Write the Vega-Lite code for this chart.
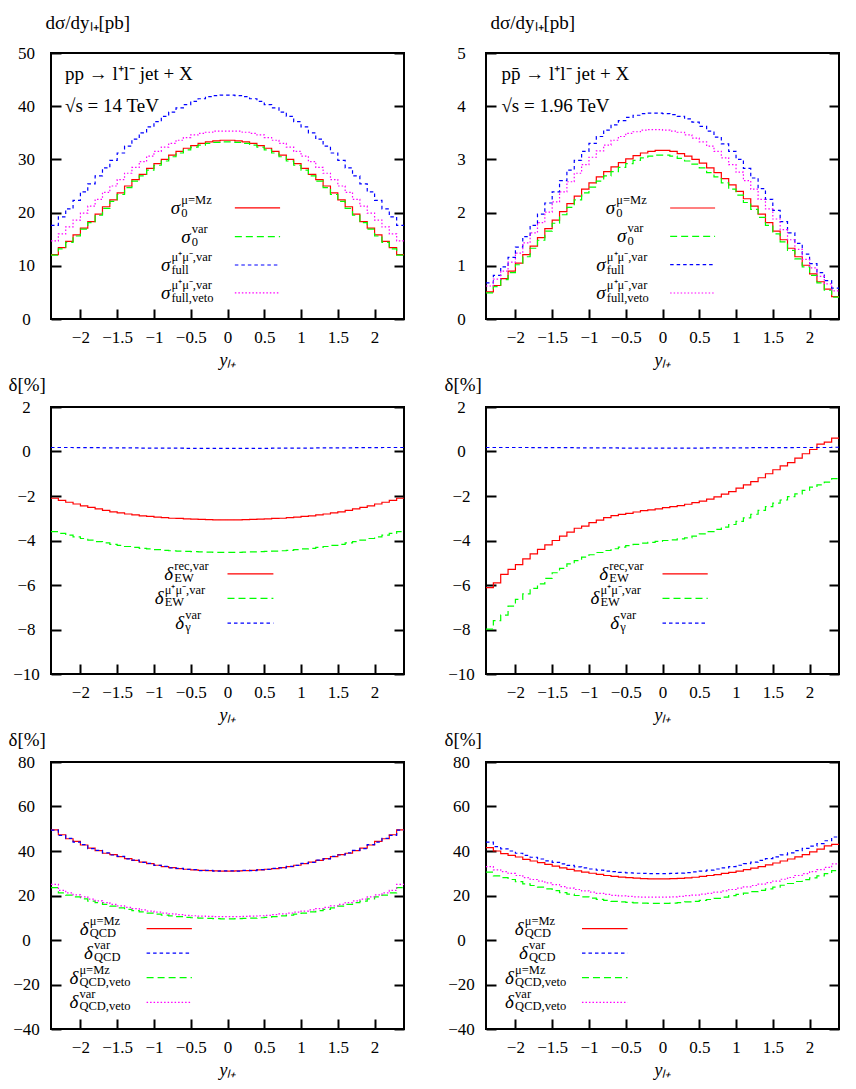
{
  "$schema": "https://vega.github.io/schema/vega-lite/v6.json",
  "background": "white",
  "padding": {"left": 7, "top": 12, "right": 5, "bottom": 5},
  "config": {
    "font": "Liberation Serif",
    "view": {"stroke": "black", "strokeWidth": 2},
    "axis": {
      "domain": false, "grid": false, "ticks": true, "tickSize": -10, "tickWidth": 2, "tickColor": "black",
      "labelFontSize": 17, "labelColor": "black", "labelFlush": false, "labelOverlap": false,
      "titleFontSize": 19, "titleColor": "black", "titleFontWeight": "normal"
    },
    "axisX": {"labelPadding": 28, "labelBaseline": "middle", "titleY": 41, "titleBaseline": "middle", "titleFontStyle": "italic", "titleFontSize": 18},
    "axisY": {"labelPadding": 35, "labelAlign": "center", "labelBaseline": "middle", "titleAngle": 0, "titleAlign": "left", "titleBaseline": "middle"}
  },
  "datasets": {
    "p1": [
      {"x": -2.4, "r": 12.1, "g": 12.0, "b": 17.6, "m": 14.7},
      {"x": -2.3, "r": 13.4, "g": 13.2, "b": 19.2, "m": 16.0},
      {"x": -2.2, "r": 14.6, "g": 14.4, "b": 20.7, "m": 17.3},
      {"x": -2.1, "r": 15.8, "g": 15.6, "b": 22.3, "m": 18.6},
      {"x": -2.0, "r": 17.1, "g": 16.9, "b": 23.9, "m": 19.9},
      {"x": -1.9, "r": 18.3, "g": 18.1, "b": 25.4, "m": 21.2},
      {"x": -1.8, "r": 19.7, "g": 19.5, "b": 26.9, "m": 22.5},
      {"x": -1.7, "r": 21.1, "g": 20.8, "b": 28.4, "m": 23.8},
      {"x": -1.6, "r": 22.4, "g": 22.1, "b": 29.8, "m": 25.0},
      {"x": -1.5, "r": 23.7, "g": 23.4, "b": 31.2, "m": 26.2},
      {"x": -1.4, "r": 25.0, "g": 24.7, "b": 32.5, "m": 27.4},
      {"x": -1.3, "r": 26.2, "g": 25.9, "b": 33.8, "m": 28.5},
      {"x": -1.2, "r": 27.2, "g": 26.9, "b": 35.0, "m": 29.6},
      {"x": -1.1, "r": 28.3, "g": 28.0, "b": 36.1, "m": 30.6},
      {"x": -1.0, "r": 29.2, "g": 28.9, "b": 37.1, "m": 31.5},
      {"x": -0.9, "r": 30.0, "g": 29.7, "b": 38.1, "m": 32.3},
      {"x": -0.8, "r": 30.8, "g": 30.5, "b": 38.9, "m": 33.0},
      {"x": -0.7, "r": 31.5, "g": 31.2, "b": 39.7, "m": 33.6},
      {"x": -0.6, "r": 32.1, "g": 31.8, "b": 40.3, "m": 34.1},
      {"x": -0.5, "r": 32.6, "g": 32.3, "b": 40.9, "m": 34.6},
      {"x": -0.4, "r": 33.0, "g": 32.7, "b": 41.4, "m": 34.9},
      {"x": -0.3, "r": 33.3, "g": 33.0, "b": 41.8, "m": 35.1},
      {"x": -0.2, "r": 33.5, "g": 33.2, "b": 42.0, "m": 35.3},
      {"x": -0.1, "r": 33.6, "g": 33.3, "b": 42.1, "m": 35.3},
      {"x": 0.0, "r": 33.6, "g": 33.3, "b": 42.1, "m": 35.3},
      {"x": 0.1, "r": 33.5, "g": 33.2, "b": 42.0, "m": 35.3},
      {"x": 0.2, "r": 33.3, "g": 33.0, "b": 41.8, "m": 35.1},
      {"x": 0.3, "r": 33.0, "g": 32.7, "b": 41.4, "m": 34.9},
      {"x": 0.4, "r": 32.6, "g": 32.3, "b": 40.9, "m": 34.6},
      {"x": 0.5, "r": 32.1, "g": 31.8, "b": 40.3, "m": 34.1},
      {"x": 0.6, "r": 31.5, "g": 31.2, "b": 39.7, "m": 33.6},
      {"x": 0.7, "r": 30.8, "g": 30.5, "b": 38.9, "m": 33.0},
      {"x": 0.8, "r": 30.0, "g": 29.7, "b": 38.1, "m": 32.3},
      {"x": 0.9, "r": 29.2, "g": 28.9, "b": 37.1, "m": 31.5},
      {"x": 1.0, "r": 28.3, "g": 28.0, "b": 36.1, "m": 30.6},
      {"x": 1.1, "r": 27.2, "g": 26.9, "b": 35.0, "m": 29.6},
      {"x": 1.2, "r": 26.2, "g": 25.9, "b": 33.8, "m": 28.5},
      {"x": 1.3, "r": 25.0, "g": 24.7, "b": 32.5, "m": 27.4},
      {"x": 1.4, "r": 23.7, "g": 23.4, "b": 31.2, "m": 26.2},
      {"x": 1.5, "r": 22.4, "g": 22.1, "b": 29.8, "m": 25.0},
      {"x": 1.6, "r": 21.1, "g": 20.8, "b": 28.4, "m": 23.8},
      {"x": 1.7, "r": 19.7, "g": 19.5, "b": 26.9, "m": 22.5},
      {"x": 1.8, "r": 18.3, "g": 18.1, "b": 25.4, "m": 21.2},
      {"x": 1.9, "r": 17.1, "g": 16.9, "b": 23.9, "m": 19.9},
      {"x": 2.0, "r": 15.8, "g": 15.6, "b": 22.3, "m": 18.6},
      {"x": 2.1, "r": 14.6, "g": 14.4, "b": 20.7, "m": 17.3},
      {"x": 2.2, "r": 13.4, "g": 13.2, "b": 19.2, "m": 16.0},
      {"x": 2.3, "r": 12.1, "g": 12.0, "b": 17.6, "m": 14.7},
      {"x": 2.4, "r": 12.1, "g": 12.0, "b": 17.6, "m": 14.7}
    ],
    "p2": [
      {"x": -2.4, "r": 0.51, "g": 0.49, "b": 0.68, "m": 0.62},
      {"x": -2.3, "r": 0.63, "g": 0.61, "b": 0.82, "m": 0.75},
      {"x": -2.2, "r": 0.76, "g": 0.74, "b": 0.98, "m": 0.90},
      {"x": -2.1, "r": 0.90, "g": 0.87, "b": 1.16, "m": 1.07},
      {"x": -2.0, "r": 1.05, "g": 1.02, "b": 1.35, "m": 1.24},
      {"x": -1.9, "r": 1.21, "g": 1.17, "b": 1.55, "m": 1.43},
      {"x": -1.8, "r": 1.37, "g": 1.33, "b": 1.76, "m": 1.62},
      {"x": -1.7, "r": 1.53, "g": 1.48, "b": 1.97, "m": 1.81},
      {"x": -1.6, "r": 1.70, "g": 1.65, "b": 2.18, "m": 2.01},
      {"x": -1.5, "r": 1.86, "g": 1.80, "b": 2.39, "m": 2.20},
      {"x": -1.4, "r": 2.02, "g": 1.96, "b": 2.60, "m": 2.39},
      {"x": -1.3, "r": 2.17, "g": 2.10, "b": 2.80, "m": 2.58},
      {"x": -1.2, "r": 2.31, "g": 2.24, "b": 2.98, "m": 2.74},
      {"x": -1.1, "r": 2.44, "g": 2.37, "b": 3.15, "m": 2.90},
      {"x": -1.0, "r": 2.56, "g": 2.48, "b": 3.30, "m": 3.04},
      {"x": -0.9, "r": 2.67, "g": 2.59, "b": 3.43, "m": 3.16},
      {"x": -0.8, "r": 2.77, "g": 2.69, "b": 3.55, "m": 3.27},
      {"x": -0.7, "r": 2.86, "g": 2.77, "b": 3.65, "m": 3.36},
      {"x": -0.6, "r": 2.94, "g": 2.85, "b": 3.73, "m": 3.43},
      {"x": -0.5, "r": 3.01, "g": 2.92, "b": 3.79, "m": 3.49},
      {"x": -0.4, "r": 3.07, "g": 2.98, "b": 3.83, "m": 3.52},
      {"x": -0.3, "r": 3.12, "g": 3.03, "b": 3.86, "m": 3.55},
      {"x": -0.2, "r": 3.15, "g": 3.06, "b": 3.87, "m": 3.56},
      {"x": -0.1, "r": 3.17, "g": 3.08, "b": 3.87, "m": 3.56},
      {"x": 0.0, "r": 3.17, "g": 3.08, "b": 3.86, "m": 3.55},
      {"x": 0.1, "r": 3.15, "g": 3.06, "b": 3.84, "m": 3.53},
      {"x": 0.2, "r": 3.11, "g": 3.02, "b": 3.81, "m": 3.51},
      {"x": 0.3, "r": 3.06, "g": 2.97, "b": 3.76, "m": 3.46},
      {"x": 0.4, "r": 3.00, "g": 2.91, "b": 3.70, "m": 3.40},
      {"x": 0.5, "r": 2.93, "g": 2.84, "b": 3.62, "m": 3.33},
      {"x": 0.6, "r": 2.84, "g": 2.75, "b": 3.53, "m": 3.25},
      {"x": 0.7, "r": 2.75, "g": 2.67, "b": 3.42, "m": 3.15},
      {"x": 0.8, "r": 2.64, "g": 2.56, "b": 3.29, "m": 3.03},
      {"x": 0.9, "r": 2.52, "g": 2.44, "b": 3.15, "m": 2.90},
      {"x": 1.0, "r": 2.40, "g": 2.33, "b": 3.00, "m": 2.76},
      {"x": 1.1, "r": 2.26, "g": 2.19, "b": 2.83, "m": 2.60},
      {"x": 1.2, "r": 2.12, "g": 2.06, "b": 2.65, "m": 2.44},
      {"x": 1.3, "r": 1.97, "g": 1.91, "b": 2.45, "m": 2.25},
      {"x": 1.4, "r": 1.81, "g": 1.76, "b": 2.25, "m": 2.07},
      {"x": 1.5, "r": 1.65, "g": 1.60, "b": 2.04, "m": 1.88},
      {"x": 1.6, "r": 1.49, "g": 1.45, "b": 1.83, "m": 1.68},
      {"x": 1.7, "r": 1.33, "g": 1.29, "b": 1.62, "m": 1.49},
      {"x": 1.8, "r": 1.17, "g": 1.13, "b": 1.42, "m": 1.31},
      {"x": 1.9, "r": 1.01, "g": 0.98, "b": 1.22, "m": 1.12},
      {"x": 2.0, "r": 0.85, "g": 0.82, "b": 1.04, "m": 0.96},
      {"x": 2.1, "r": 0.70, "g": 0.68, "b": 0.87, "m": 0.80},
      {"x": 2.2, "r": 0.56, "g": 0.54, "b": 0.72, "m": 0.66},
      {"x": 2.3, "r": 0.42, "g": 0.41, "b": 0.58, "m": 0.53},
      {"x": 2.4, "r": 0.42, "g": 0.41, "b": 0.58, "m": 0.53}
    ],
    "p3": [
      {"x": -2.4, "r": -2.1, "g": -3.6, "b": 0.18},
      {"x": -2.3, "r": -2.2, "g": -3.68, "b": 0.18},
      {"x": -2.2, "r": -2.28, "g": -3.76, "b": 0.18},
      {"x": -2.1, "r": -2.36, "g": -3.84, "b": 0.17},
      {"x": -2.0, "r": -2.44, "g": -3.91, "b": 0.17},
      {"x": -1.9, "r": -2.51, "g": -3.98, "b": 0.17},
      {"x": -1.8, "r": -2.58, "g": -4.05, "b": 0.17},
      {"x": -1.7, "r": -2.65, "g": -4.11, "b": 0.16},
      {"x": -1.6, "r": -2.71, "g": -4.17, "b": 0.16},
      {"x": -1.5, "r": -2.76, "g": -4.22, "b": 0.16},
      {"x": -1.4, "r": -2.81, "g": -4.27, "b": 0.16},
      {"x": -1.3, "r": -2.85, "g": -4.31, "b": 0.16},
      {"x": -1.2, "r": -2.89, "g": -4.35, "b": 0.15},
      {"x": -1.1, "r": -2.92, "g": -4.38, "b": 0.15},
      {"x": -1.0, "r": -2.95, "g": -4.41, "b": 0.15},
      {"x": -0.9, "r": -2.97, "g": -4.44, "b": 0.15},
      {"x": -0.8, "r": -3.0, "g": -4.46, "b": 0.15},
      {"x": -0.7, "r": -3.01, "g": -4.48, "b": 0.15},
      {"x": -0.6, "r": -3.03, "g": -4.49, "b": 0.14},
      {"x": -0.5, "r": -3.04, "g": -4.5, "b": 0.14},
      {"x": -0.4, "r": -3.05, "g": -4.51, "b": 0.14},
      {"x": -0.3, "r": -3.06, "g": -4.52, "b": 0.14},
      {"x": -0.2, "r": -3.07, "g": -4.53, "b": 0.14},
      {"x": -0.1, "r": -3.07, "g": -4.53, "b": 0.14},
      {"x": 0.0, "r": -3.07, "g": -4.53, "b": 0.14},
      {"x": 0.1, "r": -3.07, "g": -4.53, "b": 0.14},
      {"x": 0.2, "r": -3.06, "g": -4.52, "b": 0.14},
      {"x": 0.3, "r": -3.05, "g": -4.51, "b": 0.14},
      {"x": 0.4, "r": -3.04, "g": -4.5, "b": 0.14},
      {"x": 0.5, "r": -3.03, "g": -4.49, "b": 0.14},
      {"x": 0.6, "r": -3.01, "g": -4.48, "b": 0.15},
      {"x": 0.7, "r": -3.0, "g": -4.46, "b": 0.15},
      {"x": 0.8, "r": -2.97, "g": -4.44, "b": 0.15},
      {"x": 0.9, "r": -2.95, "g": -4.41, "b": 0.15},
      {"x": 1.0, "r": -2.92, "g": -4.38, "b": 0.15},
      {"x": 1.1, "r": -2.89, "g": -4.35, "b": 0.15},
      {"x": 1.2, "r": -2.85, "g": -4.31, "b": 0.16},
      {"x": 1.3, "r": -2.81, "g": -4.27, "b": 0.16},
      {"x": 1.4, "r": -2.76, "g": -4.22, "b": 0.16},
      {"x": 1.5, "r": -2.71, "g": -4.17, "b": 0.16},
      {"x": 1.6, "r": -2.65, "g": -4.11, "b": 0.16},
      {"x": 1.7, "r": -2.58, "g": -4.05, "b": 0.17},
      {"x": 1.8, "r": -2.51, "g": -3.98, "b": 0.17},
      {"x": 1.9, "r": -2.44, "g": -3.91, "b": 0.17},
      {"x": 2.0, "r": -2.36, "g": -3.84, "b": 0.17},
      {"x": 2.1, "r": -2.28, "g": -3.76, "b": 0.18},
      {"x": 2.2, "r": -2.2, "g": -3.68, "b": 0.18},
      {"x": 2.3, "r": -2.1, "g": -3.6, "b": 0.18},
      {"x": 2.4, "r": -2.1, "g": -3.6, "b": 0.18}
    ],
    "p4": [
      {"x": -2.4, "r": -6.12, "g": -7.98, "b": 0.18},
      {"x": -2.3, "r": -5.9, "g": -7.6, "b": 0.18},
      {"x": -2.2, "r": -5.52, "g": -7.35, "b": 0.18},
      {"x": -2.1, "r": -5.3, "g": -6.95, "b": 0.18},
      {"x": -2.0, "r": -5.08, "g": -6.65, "b": 0.18},
      {"x": -1.9, "r": -4.83, "g": -6.4, "b": 0.18},
      {"x": -1.8, "r": -4.6, "g": -6.15, "b": 0.17},
      {"x": -1.7, "r": -4.4, "g": -5.95, "b": 0.17},
      {"x": -1.6, "r": -4.2, "g": -5.7, "b": 0.17},
      {"x": -1.5, "r": -4.0, "g": -5.45, "b": 0.17},
      {"x": -1.4, "r": -3.8, "g": -5.25, "b": 0.17},
      {"x": -1.3, "r": -3.62, "g": -5.05, "b": 0.17},
      {"x": -1.2, "r": -3.45, "g": -4.9, "b": 0.16},
      {"x": -1.1, "r": -3.35, "g": -4.75, "b": 0.16},
      {"x": -1.0, "r": -3.2, "g": -4.64, "b": 0.16},
      {"x": -0.9, "r": -3.08, "g": -4.54, "b": 0.16},
      {"x": -0.8, "r": -2.97, "g": -4.45, "b": 0.16},
      {"x": -0.7, "r": -2.88, "g": -4.37, "b": 0.16},
      {"x": -0.6, "r": -2.83, "g": -4.3, "b": 0.15},
      {"x": -0.5, "r": -2.78, "g": -4.23, "b": 0.15},
      {"x": -0.4, "r": -2.72, "g": -4.17, "b": 0.15},
      {"x": -0.3, "r": -2.66, "g": -4.12, "b": 0.15},
      {"x": -0.2, "r": -2.62, "g": -4.08, "b": 0.15},
      {"x": -0.1, "r": -2.58, "g": -4.04, "b": 0.15},
      {"x": 0.0, "r": -2.52, "g": -4.0, "b": 0.15},
      {"x": 0.1, "r": -2.48, "g": -3.97, "b": 0.15},
      {"x": 0.2, "r": -2.43, "g": -3.93, "b": 0.15},
      {"x": 0.3, "r": -2.37, "g": -3.88, "b": 0.15},
      {"x": 0.4, "r": -2.3, "g": -3.8, "b": 0.15},
      {"x": 0.5, "r": -2.23, "g": -3.7, "b": 0.15},
      {"x": 0.6, "r": -2.14, "g": -3.6, "b": 0.16},
      {"x": 0.7, "r": -2.04, "g": -3.5, "b": 0.16},
      {"x": 0.8, "r": -1.92, "g": -3.4, "b": 0.16},
      {"x": 0.9, "r": -1.8, "g": -3.28, "b": 0.16},
      {"x": 1.0, "r": -1.65, "g": -3.14, "b": 0.16},
      {"x": 1.1, "r": -1.5, "g": -2.98, "b": 0.16},
      {"x": 1.2, "r": -1.35, "g": -2.82, "b": 0.17},
      {"x": 1.3, "r": -1.18, "g": -2.65, "b": 0.17},
      {"x": 1.4, "r": -1.0, "g": -2.48, "b": 0.17},
      {"x": 1.5, "r": -0.82, "g": -2.32, "b": 0.17},
      {"x": 1.6, "r": -0.65, "g": -2.18, "b": 0.17},
      {"x": 1.7, "r": -0.5, "g": -2.03, "b": 0.17},
      {"x": 1.8, "r": -0.3, "g": -1.9, "b": 0.18},
      {"x": 1.9, "r": -0.1, "g": -1.75, "b": 0.18},
      {"x": 2.0, "r": 0.09, "g": -1.6, "b": 0.18},
      {"x": 2.1, "r": 0.33, "g": -1.5, "b": 0.18},
      {"x": 2.2, "r": 0.42, "g": -1.38, "b": 0.18},
      {"x": 2.3, "r": 0.6, "g": -1.22, "b": 0.19},
      {"x": 2.4, "r": 0.6, "g": -1.22, "b": 0.19}
    ],
    "p5": [
      {"x": -2.4, "r": 49.5, "g": 23.5, "b": 49.4, "m": 25.0},
      {"x": -2.3, "r": 47.3, "g": 21.2, "b": 47.0, "m": 22.3},
      {"x": -2.2, "r": 45.5, "g": 20.2, "b": 45.7, "m": 21.2},
      {"x": -2.1, "r": 44.3, "g": 19.4, "b": 44.0, "m": 20.3},
      {"x": -2.0, "r": 42.7, "g": 18.5, "b": 42.9, "m": 19.4},
      {"x": -1.9, "r": 41.3, "g": 17.5, "b": 41.1, "m": 18.4},
      {"x": -1.8, "r": 40.2, "g": 16.8, "b": 40.3, "m": 17.6},
      {"x": -1.7, "r": 39.0, "g": 16.0, "b": 39.2, "m": 16.8},
      {"x": -1.6, "r": 38.4, "g": 15.2, "b": 38.2, "m": 16.0},
      {"x": -1.5, "r": 37.5, "g": 14.4, "b": 37.6, "m": 15.3},
      {"x": -1.4, "r": 36.6, "g": 13.8, "b": 36.5, "m": 14.7},
      {"x": -1.3, "r": 35.8, "g": 13.2, "b": 35.9, "m": 14.1},
      {"x": -1.2, "r": 35.0, "g": 12.6, "b": 34.9, "m": 13.5},
      {"x": -1.1, "r": 34.3, "g": 12.1, "b": 34.4, "m": 13.0},
      {"x": -1.0, "r": 33.6, "g": 11.6, "b": 33.5, "m": 12.5},
      {"x": -0.9, "r": 33.0, "g": 11.2, "b": 33.1, "m": 12.1},
      {"x": -0.8, "r": 32.5, "g": 10.8, "b": 32.4, "m": 11.7},
      {"x": -0.7, "r": 32.1, "g": 10.5, "b": 32.2, "m": 11.4},
      {"x": -0.6, "r": 31.8, "g": 10.2, "b": 31.7, "m": 11.1},
      {"x": -0.5, "r": 31.5, "g": 10.0, "b": 31.6, "m": 10.9},
      {"x": -0.4, "r": 31.3, "g": 9.8, "b": 31.2, "m": 10.7},
      {"x": -0.3, "r": 31.2, "g": 9.7, "b": 31.3, "m": 10.6},
      {"x": -0.2, "r": 31.1, "g": 9.6, "b": 31.0, "m": 10.5},
      {"x": -0.1, "r": 31.0, "g": 9.5, "b": 31.1, "m": 10.5},
      {"x": 0.0, "r": 31.0, "g": 9.5, "b": 31.1, "m": 10.5},
      {"x": 0.1, "r": 31.1, "g": 9.6, "b": 31.0, "m": 10.5},
      {"x": 0.2, "r": 31.2, "g": 9.7, "b": 31.3, "m": 10.6},
      {"x": 0.3, "r": 31.3, "g": 9.8, "b": 31.2, "m": 10.7},
      {"x": 0.4, "r": 31.5, "g": 10.0, "b": 31.6, "m": 10.9},
      {"x": 0.5, "r": 31.8, "g": 10.2, "b": 31.7, "m": 11.1},
      {"x": 0.6, "r": 32.1, "g": 10.5, "b": 32.2, "m": 11.4},
      {"x": 0.7, "r": 32.5, "g": 10.8, "b": 32.4, "m": 11.7},
      {"x": 0.8, "r": 33.0, "g": 11.2, "b": 33.1, "m": 12.1},
      {"x": 0.9, "r": 33.6, "g": 11.6, "b": 33.5, "m": 12.5},
      {"x": 1.0, "r": 34.3, "g": 12.1, "b": 34.4, "m": 13.0},
      {"x": 1.1, "r": 35.0, "g": 12.6, "b": 34.9, "m": 13.5},
      {"x": 1.2, "r": 35.8, "g": 13.2, "b": 35.9, "m": 14.1},
      {"x": 1.3, "r": 36.6, "g": 13.8, "b": 36.5, "m": 14.7},
      {"x": 1.4, "r": 37.5, "g": 14.4, "b": 37.6, "m": 15.3},
      {"x": 1.5, "r": 38.4, "g": 15.2, "b": 38.2, "m": 16.0},
      {"x": 1.6, "r": 39.0, "g": 16.0, "b": 39.2, "m": 16.8},
      {"x": 1.7, "r": 40.2, "g": 16.8, "b": 40.3, "m": 17.6},
      {"x": 1.8, "r": 41.3, "g": 17.5, "b": 41.1, "m": 18.4},
      {"x": 1.9, "r": 42.7, "g": 18.5, "b": 42.9, "m": 19.4},
      {"x": 2.0, "r": 44.3, "g": 19.4, "b": 44.0, "m": 20.3},
      {"x": 2.1, "r": 45.5, "g": 20.2, "b": 45.7, "m": 21.2},
      {"x": 2.2, "r": 47.3, "g": 21.2, "b": 47.0, "m": 22.3},
      {"x": 2.3, "r": 49.5, "g": 23.5, "b": 49.4, "m": 25.0},
      {"x": 2.4, "r": 49.5, "g": 23.5, "b": 49.4, "m": 25.0}
    ],
    "p6": [
      {"x": -2.4, "r": 41.5, "g": 30.5, "b": 44.0, "m": 33.0},
      {"x": -2.3, "r": 40.0, "g": 28.8, "b": 42.0, "m": 31.5},
      {"x": -2.2, "r": 38.8, "g": 28.0, "b": 41.0, "m": 30.7},
      {"x": -2.1, "r": 38.0, "g": 27.2, "b": 40.0, "m": 29.9},
      {"x": -2.0, "r": 37.3, "g": 26.2, "b": 39.0, "m": 29.0},
      {"x": -1.9, "r": 36.2, "g": 25.2, "b": 38.0, "m": 28.0},
      {"x": -1.8, "r": 35.5, "g": 24.5, "b": 37.2, "m": 27.2},
      {"x": -1.7, "r": 34.8, "g": 23.8, "b": 36.4, "m": 26.5},
      {"x": -1.6, "r": 34.0, "g": 23.0, "b": 35.6, "m": 25.7},
      {"x": -1.5, "r": 33.2, "g": 22.2, "b": 34.9, "m": 24.9},
      {"x": -1.4, "r": 32.4, "g": 21.3, "b": 34.2, "m": 24.0},
      {"x": -1.3, "r": 31.7, "g": 20.6, "b": 33.5, "m": 23.3},
      {"x": -1.2, "r": 31.1, "g": 20.0, "b": 32.9, "m": 22.7},
      {"x": -1.1, "r": 30.5, "g": 19.4, "b": 32.4, "m": 22.1},
      {"x": -1.0, "r": 30.0, "g": 18.8, "b": 31.9, "m": 21.5},
      {"x": -0.9, "r": 29.5, "g": 18.3, "b": 31.4, "m": 21.0},
      {"x": -0.8, "r": 29.0, "g": 17.8, "b": 31.0, "m": 20.5},
      {"x": -0.7, "r": 28.6, "g": 17.4, "b": 30.7, "m": 20.1},
      {"x": -0.6, "r": 28.3, "g": 17.1, "b": 30.4, "m": 19.8},
      {"x": -0.5, "r": 28.0, "g": 16.9, "b": 30.2, "m": 19.6},
      {"x": -0.4, "r": 27.8, "g": 16.7, "b": 30.0, "m": 19.4},
      {"x": -0.3, "r": 27.6, "g": 16.6, "b": 29.9, "m": 19.3},
      {"x": -0.2, "r": 27.5, "g": 16.5, "b": 29.8, "m": 19.3},
      {"x": -0.1, "r": 27.5, "g": 16.5, "b": 29.8, "m": 19.3},
      {"x": 0.0, "r": 27.5, "g": 16.5, "b": 29.8, "m": 19.3},
      {"x": 0.1, "r": 27.6, "g": 16.6, "b": 29.9, "m": 19.4},
      {"x": 0.2, "r": 27.7, "g": 16.8, "b": 30.1, "m": 19.6},
      {"x": 0.3, "r": 27.9, "g": 17.1, "b": 30.3, "m": 19.9},
      {"x": 0.4, "r": 28.2, "g": 17.4, "b": 30.6, "m": 20.2},
      {"x": 0.5, "r": 28.6, "g": 17.8, "b": 31.0, "m": 20.6},
      {"x": 0.6, "r": 29.0, "g": 18.2, "b": 31.4, "m": 21.0},
      {"x": 0.7, "r": 29.4, "g": 18.7, "b": 31.9, "m": 21.5},
      {"x": 0.8, "r": 29.9, "g": 19.3, "b": 32.4, "m": 22.1},
      {"x": 0.9, "r": 30.4, "g": 19.9, "b": 33.0, "m": 22.7},
      {"x": 1.0, "r": 31.0, "g": 20.5, "b": 33.6, "m": 23.3},
      {"x": 1.1, "r": 31.6, "g": 21.1, "b": 34.3, "m": 23.9},
      {"x": 1.2, "r": 32.3, "g": 21.7, "b": 35.0, "m": 24.5},
      {"x": 1.3, "r": 33.0, "g": 22.3, "b": 35.8, "m": 25.1},
      {"x": 1.4, "r": 33.8, "g": 23.0, "b": 36.6, "m": 25.8},
      {"x": 1.5, "r": 34.6, "g": 23.8, "b": 37.4, "m": 26.5},
      {"x": 1.6, "r": 35.5, "g": 24.6, "b": 38.3, "m": 27.3},
      {"x": 1.7, "r": 36.4, "g": 25.4, "b": 39.2, "m": 28.1},
      {"x": 1.8, "r": 37.4, "g": 26.3, "b": 40.2, "m": 29.0},
      {"x": 1.9, "r": 38.4, "g": 27.1, "b": 41.2, "m": 29.8},
      {"x": 2.0, "r": 39.6, "g": 27.9, "b": 42.2, "m": 30.7},
      {"x": 2.1, "r": 40.8, "g": 28.8, "b": 43.3, "m": 31.6},
      {"x": 2.2, "r": 42.3, "g": 29.8, "b": 44.6, "m": 32.6},
      {"x": 2.3, "r": 43.0, "g": 31.2, "b": 46.3, "m": 34.2},
      {"x": 2.4, "r": 43.0, "g": 31.2, "b": 46.3, "m": 34.2}
    ],
    "k1": [
      {"s": "r", "x": -0.77, "y": 20.9, "x1": 0.1, "x2": 0.715, "base": "σ", "sup": "μ=Mz", "sub": "0"},
      {"s": "g", "x": -0.63, "y": 15.5, "x1": 0.1, "x2": 0.715, "base": "σ", "sup": "var", "sub": "0"},
      {"s": "b", "x": -0.905, "y": 10.15, "x1": 0.1, "x2": 0.715, "base": "σ", "sup": "μ⁺μ⁻,var", "sub": "full"},
      {"s": "m", "x": -0.905, "y": 4.9, "x1": 0.1, "x2": 0.715, "base": "σ", "sup": "μ⁺μ⁻,var", "sub": "full,veto"}
    ],
    "k2": [
      {"s": "r", "x": -0.77, "y": 2.086, "x1": 0.104, "x2": 0.715, "base": "σ", "sup": "μ=Mz", "sub": "0"},
      {"s": "g", "x": -0.62, "y": 1.554, "x1": 0.104, "x2": 0.715, "base": "σ", "sup": "var", "sub": "0"},
      {"s": "b", "x": -0.9, "y": 1.021, "x1": 0.104, "x2": 0.715, "base": "σ", "sup": "μ⁺μ⁻,var", "sub": "full"},
      {"s": "m", "x": -0.9, "y": 0.489, "x1": 0.104, "x2": 0.715, "base": "σ", "sup": "μ⁺μ⁻,var", "sub": "full,veto"}
    ],
    "k3": [
      {"s": "r", "x": -0.86, "y": -5.5, "x1": 0.0, "x2": 0.624, "base": "δ", "sup": "rec,var", "sub": "EW"},
      {"s": "g", "x": -0.99, "y": -6.6, "x1": 0.0, "x2": 0.624, "base": "δ", "sup": "μ⁺μ⁻,var", "sub": "EW"},
      {"s": "b", "x": -0.71, "y": -7.71, "x1": 0.0, "x2": 0.624, "base": "δ", "sup": "var", "sub": "γ"}
    ],
    "k4": [
      {"s": "r", "x": -0.86, "y": -5.5, "x1": 0.0, "x2": 0.615, "base": "δ", "sup": "rec,var", "sub": "EW"},
      {"s": "g", "x": -0.98, "y": -6.6, "x1": 0.0, "x2": 0.615, "base": "δ", "sup": "μ⁺μ⁻,var", "sub": "EW"},
      {"s": "b", "x": -0.71, "y": -7.71, "x1": 0.0, "x2": 0.615, "base": "δ", "sup": "var", "sub": "γ"}
    ],
    "k5": [
      {"s": "r", "x": -2.01, "y": 5.1, "x1": -1.1, "x2": -0.484, "base": "δ", "sup": "μ=Mz", "sub": "QCD"},
      {"s": "b", "x": -1.95, "y": -5.9, "x1": -1.1, "x2": -0.484, "base": "δ", "sup": "var", "sub": "QCD"},
      {"s": "g", "x": -2.15, "y": -16.9, "x1": -1.1, "x2": -0.484, "base": "δ", "sup": "μ=Mz", "sub": "QCD,veto"},
      {"s": "m", "x": -2.15, "y": -28.0, "x1": -1.1, "x2": -0.484, "base": "δ", "sup": "var", "sub": "QCD,veto"}
    ],
    "k6": [
      {"s": "r", "x": -2.01, "y": 5.1, "x1": -1.095, "x2": -0.475, "base": "δ", "sup": "μ=Mz", "sub": "QCD"},
      {"s": "b", "x": -1.95, "y": -5.9, "x1": -1.095, "x2": -0.475, "base": "δ", "sup": "var", "sub": "QCD"},
      {"s": "g", "x": -2.14, "y": -16.9, "x1": -1.095, "x2": -0.475, "base": "δ", "sup": "μ=Mz", "sub": "QCD,veto"},
      {"s": "m", "x": -2.14, "y": -28.0, "x1": -1.095, "x2": -0.475, "base": "δ", "sup": "var", "sub": "QCD,veto"}
    ],
    "a1": [
      {"x": -2.21, "y": 46.0, "t": "pp → l⁺l⁻ jet + X"},
      {"x": -2.21, "y": 40.1, "t": "√s = 14 TeV"}
    ],
    "a2": [
      {"x": -2.19, "y": 4.6, "t": "pp̄ → l⁺l⁻ jet + X"},
      {"x": -2.19, "y": 4.01, "t": "√s = 1.96 TeV"}
    ]
  },
  "columns": 2,
  "spacing": {"row": 88, "column": 82},
  "bounds": "flush",
  "concat": [
    {
      "width": 353, "height": 266,
      "layer": [
        {
          "data": {"name": "p1"},
          "transform": [{"fold": ["r", "g", "b", "m"], "as": ["s", "v"]}],
          "mark": {"type": "line", "interpolate": "step-after", "strokeWidth": 1.2},
          "encoding": {
            "x": {"field": "x", "type": "quantitative", "title": "yₗ₊", "scale": {"domain": [-2.4, 2.4], "nice": false, "zero": false}, "axis": {"values": [-2, -1.5, -1, -0.5, 0, 0.5, 1, 1.5, 2], "format": "~g"}},
            "y": {"field": "v", "type": "quantitative", "title": "dσ/dyₗ₊[pb]", "scale": {"domain": [0, 50], "nice": false, "zero": false}, "axis": {"orient": "left", "values": [0, 10, 20, 30, 40, 50], "titleX": -6, "titleY": -31}},
            "color": {"field": "s", "type": "nominal", "scale": {"domain": ["r", "g", "b", "m"], "range": ["#ff0000", "#00ff00", "#0000ff", "#ff00ff"]}, "legend": null},
            "strokeDash": {"field": "s", "type": "nominal", "scale": {"domain": ["r", "g", "b", "m"], "range": [[1, 0], [7, 4], [3.5, 3], [1.5, 2]]}, "legend": null}
          }
        },
        {
          "data": {"name": "k1"},
          "mark": {"type": "rule", "strokeWidth": 1.2},
          "encoding": {
            "x": {"field": "x1", "type": "quantitative", "title": "yₗ₊", "scale": {"domain": [-2.4, 2.4], "nice": false, "zero": false}},
            "x2": {"field": "x2"},
            "y": {"field": "y", "type": "quantitative", "scale": {"domain": [0, 50], "nice": false, "zero": false}, "axis": {"orient": "right", "values": [0, 10, 20, 30, 40, 50], "labels": false, "title": null}},
            "color": {"field": "s", "type": "nominal", "scale": {"domain": ["r", "g", "b", "m"], "range": ["#ff0000", "#00ff00", "#0000ff", "#ff00ff"]}, "legend": null},
            "strokeDash": {"field": "s", "type": "nominal", "scale": {"domain": ["r", "g", "b", "m"], "range": [[1, 0], [7, 4], [3.5, 3], [1.5, 2]]}, "legend": null}
          }
        },
        {
          "data": {"name": "k1"},
          "mark": {"type": "text", "align": "left", "baseline": "middle", "fontSize": 19, "fontStyle": "italic"},
          "encoding": {
            "x": {"field": "x", "type": "quantitative", "title": "yₗ₊", "scale": {"domain": [-2.4, 2.4], "nice": false, "zero": false}},
            "y": {"field": "y", "type": "quantitative", "scale": {"domain": [0, 50], "nice": false, "zero": false}, "axis": null},
            "text": {"field": "base"}
          }
        },
        {
          "data": {"name": "k1"},
          "mark": {"type": "text", "align": "left", "baseline": "middle", "fontSize": 12.5, "dx": 10.5, "dy": -8},
          "encoding": {
            "x": {"field": "x", "type": "quantitative", "title": "yₗ₊", "scale": {"domain": [-2.4, 2.4], "nice": false, "zero": false}},
            "y": {"field": "y", "type": "quantitative", "scale": {"domain": [0, 50], "nice": false, "zero": false}, "axis": null},
            "text": {"field": "sup"}
          }
        },
        {
          "data": {"name": "k1"},
          "mark": {"type": "text", "align": "left", "baseline": "middle", "fontSize": 12.5, "dx": 10.5, "dy": 5},
          "encoding": {
            "x": {"field": "x", "type": "quantitative", "title": "yₗ₊", "scale": {"domain": [-2.4, 2.4], "nice": false, "zero": false}},
            "y": {"field": "y", "type": "quantitative", "scale": {"domain": [0, 50], "nice": false, "zero": false}, "axis": null},
            "text": {"field": "sub"}
          }
        },
        {
          "data": {"name": "a1"},
          "mark": {"type": "text", "align": "left", "baseline": "middle", "fontSize": 19},
          "encoding": {
            "x": {"field": "x", "type": "quantitative", "title": "yₗ₊", "scale": {"domain": [-2.4, 2.4], "nice": false, "zero": false}},
            "y": {"field": "y", "type": "quantitative", "scale": {"domain": [0, 50], "nice": false, "zero": false}, "axis": null},
            "text": {"field": "t"}
          }
        }
      ],
      "resolve": {"axis": {"y": "independent"}}
    },
    {
      "width": 353, "height": 266,
      "layer": [
        {
          "data": {"name": "p2"},
          "transform": [{"fold": ["r", "g", "b", "m"], "as": ["s", "v"]}],
          "mark": {"type": "line", "interpolate": "step-after", "strokeWidth": 1.2},
          "encoding": {
            "x": {"field": "x", "type": "quantitative", "title": "yₗ₊", "scale": {"domain": [-2.4, 2.4], "nice": false, "zero": false}, "axis": {"values": [-2, -1.5, -1, -0.5, 0, 0.5, 1, 1.5, 2], "format": "~g"}},
            "y": {"field": "v", "type": "quantitative", "title": "dσ/dyₗ₊[pb]", "scale": {"domain": [0, 5], "nice": false, "zero": false}, "axis": {"orient": "left", "values": [0, 1, 2, 3, 4, 5], "titleX": 4, "titleY": -31}},
            "color": {"field": "s", "type": "nominal", "scale": {"domain": ["r", "g", "b", "m"], "range": ["#ff0000", "#00ff00", "#0000ff", "#ff00ff"]}, "legend": null},
            "strokeDash": {"field": "s", "type": "nominal", "scale": {"domain": ["r", "g", "b", "m"], "range": [[1, 0], [7, 4], [3.5, 3], [1.5, 2]]}, "legend": null}
          }
        },
        {
          "data": {"name": "k2"},
          "mark": {"type": "rule", "strokeWidth": 1.2},
          "encoding": {
            "x": {"field": "x1", "type": "quantitative", "title": "yₗ₊", "scale": {"domain": [-2.4, 2.4], "nice": false, "zero": false}},
            "x2": {"field": "x2"},
            "y": {"field": "y", "type": "quantitative", "scale": {"domain": [0, 5], "nice": false, "zero": false}, "axis": {"orient": "right", "values": [0, 1, 2, 3, 4, 5], "labels": false, "title": null}},
            "color": {"field": "s", "type": "nominal", "scale": {"domain": ["r", "g", "b", "m"], "range": ["#ff0000", "#00ff00", "#0000ff", "#ff00ff"]}, "legend": null},
            "strokeDash": {"field": "s", "type": "nominal", "scale": {"domain": ["r", "g", "b", "m"], "range": [[1, 0], [7, 4], [3.5, 3], [1.5, 2]]}, "legend": null}
          }
        },
        {
          "data": {"name": "k2"},
          "mark": {"type": "text", "align": "left", "baseline": "middle", "fontSize": 19, "fontStyle": "italic"},
          "encoding": {
            "x": {"field": "x", "type": "quantitative", "title": "yₗ₊", "scale": {"domain": [-2.4, 2.4], "nice": false, "zero": false}},
            "y": {"field": "y", "type": "quantitative", "scale": {"domain": [0, 5], "nice": false, "zero": false}, "axis": null},
            "text": {"field": "base"}
          }
        },
        {
          "data": {"name": "k2"},
          "mark": {"type": "text", "align": "left", "baseline": "middle", "fontSize": 12.5, "dx": 10.5, "dy": -8},
          "encoding": {
            "x": {"field": "x", "type": "quantitative", "title": "yₗ₊", "scale": {"domain": [-2.4, 2.4], "nice": false, "zero": false}},
            "y": {"field": "y", "type": "quantitative", "scale": {"domain": [0, 5], "nice": false, "zero": false}, "axis": null},
            "text": {"field": "sup"}
          }
        },
        {
          "data": {"name": "k2"},
          "mark": {"type": "text", "align": "left", "baseline": "middle", "fontSize": 12.5, "dx": 10.5, "dy": 5},
          "encoding": {
            "x": {"field": "x", "type": "quantitative", "title": "yₗ₊", "scale": {"domain": [-2.4, 2.4], "nice": false, "zero": false}},
            "y": {"field": "y", "type": "quantitative", "scale": {"domain": [0, 5], "nice": false, "zero": false}, "axis": null},
            "text": {"field": "sub"}
          }
        },
        {
          "data": {"name": "a2"},
          "mark": {"type": "text", "align": "left", "baseline": "middle", "fontSize": 19},
          "encoding": {
            "x": {"field": "x", "type": "quantitative", "title": "yₗ₊", "scale": {"domain": [-2.4, 2.4], "nice": false, "zero": false}},
            "y": {"field": "y", "type": "quantitative", "scale": {"domain": [0, 5], "nice": false, "zero": false}, "axis": null},
            "text": {"field": "t"}
          }
        }
      ],
      "resolve": {"axis": {"y": "independent"}}
    },
    {
      "width": 353, "height": 267,
      "layer": [
        {
          "data": {"name": "p3"},
          "transform": [{"fold": ["r", "g", "b"], "as": ["s", "v"]}],
          "mark": {"type": "line", "interpolate": "step-after", "strokeWidth": 1.2},
          "encoding": {
            "x": {"field": "x", "type": "quantitative", "title": "yₗ₊", "scale": {"domain": [-2.4, 2.4], "nice": false, "zero": false}, "axis": {"values": [-2, -1.5, -1, -0.5, 0, 0.5, 1, 1.5, 2], "format": "~g"}},
            "y": {"field": "v", "type": "quantitative", "title": "δ[%]", "scale": {"domain": [-10, 2], "nice": false, "zero": false}, "axis": {"orient": "left", "values": [-10, -8, -6, -4, -2, 0, 2], "titleX": -43, "titleY": -23}},
            "color": {"field": "s", "type": "nominal", "scale": {"domain": ["r", "g", "b"], "range": ["#ff0000", "#00ff00", "#0000ff"]}, "legend": null},
            "strokeDash": {"field": "s", "type": "nominal", "scale": {"domain": ["r", "g", "b"], "range": [[1, 0], [7, 4], [3.5, 3]]}, "legend": null}
          }
        },
        {
          "data": {"name": "k3"},
          "mark": {"type": "rule", "strokeWidth": 1.2},
          "encoding": {
            "x": {"field": "x1", "type": "quantitative", "title": "yₗ₊", "scale": {"domain": [-2.4, 2.4], "nice": false, "zero": false}},
            "x2": {"field": "x2"},
            "y": {"field": "y", "type": "quantitative", "scale": {"domain": [-10, 2], "nice": false, "zero": false}, "axis": {"orient": "right", "values": [-10, -8, -6, -4, -2, 0, 2], "labels": false, "title": null}},
            "color": {"field": "s", "type": "nominal", "scale": {"domain": ["r", "g", "b"], "range": ["#ff0000", "#00ff00", "#0000ff"]}, "legend": null},
            "strokeDash": {"field": "s", "type": "nominal", "scale": {"domain": ["r", "g", "b"], "range": [[1, 0], [7, 4], [3.5, 3]]}, "legend": null}
          }
        },
        {
          "data": {"name": "k3"},
          "mark": {"type": "text", "align": "left", "baseline": "middle", "fontSize": 19, "fontStyle": "italic"},
          "encoding": {
            "x": {"field": "x", "type": "quantitative", "title": "yₗ₊", "scale": {"domain": [-2.4, 2.4], "nice": false, "zero": false}},
            "y": {"field": "y", "type": "quantitative", "scale": {"domain": [-10, 2], "nice": false, "zero": false}, "axis": null},
            "text": {"field": "base"}
          }
        },
        {
          "data": {"name": "k3"},
          "mark": {"type": "text", "align": "left", "baseline": "middle", "fontSize": 12.5, "dx": 10, "dy": -8},
          "encoding": {
            "x": {"field": "x", "type": "quantitative", "title": "yₗ₊", "scale": {"domain": [-2.4, 2.4], "nice": false, "zero": false}},
            "y": {"field": "y", "type": "quantitative", "scale": {"domain": [-10, 2], "nice": false, "zero": false}, "axis": null},
            "text": {"field": "sup"}
          }
        },
        {
          "data": {"name": "k3"},
          "mark": {"type": "text", "align": "left", "baseline": "middle", "fontSize": 12.5, "dx": 10, "dy": 4},
          "encoding": {
            "x": {"field": "x", "type": "quantitative", "title": "yₗ₊", "scale": {"domain": [-2.4, 2.4], "nice": false, "zero": false}},
            "y": {"field": "y", "type": "quantitative", "scale": {"domain": [-10, 2], "nice": false, "zero": false}, "axis": null},
            "text": {"field": "sub"}
          }
        }
      ],
      "resolve": {"axis": {"y": "independent"}}
    },
    {
      "width": 353, "height": 267,
      "layer": [
        {
          "data": {"name": "p4"},
          "transform": [{"fold": ["r", "g", "b"], "as": ["s", "v"]}],
          "mark": {"type": "line", "interpolate": "step-after", "strokeWidth": 1.2},
          "encoding": {
            "x": {"field": "x", "type": "quantitative", "title": "yₗ₊", "scale": {"domain": [-2.4, 2.4], "nice": false, "zero": false}, "axis": {"values": [-2, -1.5, -1, -0.5, 0, 0.5, 1, 1.5, 2], "format": "~g"}},
            "y": {"field": "v", "type": "quantitative", "title": "δ[%]", "scale": {"domain": [-10, 2], "nice": false, "zero": false}, "axis": {"orient": "left", "values": [-10, -8, -6, -4, -2, 0, 2], "titleX": -42, "titleY": -23}},
            "color": {"field": "s", "type": "nominal", "scale": {"domain": ["r", "g", "b"], "range": ["#ff0000", "#00ff00", "#0000ff"]}, "legend": null},
            "strokeDash": {"field": "s", "type": "nominal", "scale": {"domain": ["r", "g", "b"], "range": [[1, 0], [7, 4], [3.5, 3]]}, "legend": null}
          }
        },
        {
          "data": {"name": "k4"},
          "mark": {"type": "rule", "strokeWidth": 1.2},
          "encoding": {
            "x": {"field": "x1", "type": "quantitative", "title": "yₗ₊", "scale": {"domain": [-2.4, 2.4], "nice": false, "zero": false}},
            "x2": {"field": "x2"},
            "y": {"field": "y", "type": "quantitative", "scale": {"domain": [-10, 2], "nice": false, "zero": false}, "axis": {"orient": "right", "values": [-10, -8, -6, -4, -2, 0, 2], "labels": false, "title": null}},
            "color": {"field": "s", "type": "nominal", "scale": {"domain": ["r", "g", "b"], "range": ["#ff0000", "#00ff00", "#0000ff"]}, "legend": null},
            "strokeDash": {"field": "s", "type": "nominal", "scale": {"domain": ["r", "g", "b"], "range": [[1, 0], [7, 4], [3.5, 3]]}, "legend": null}
          }
        },
        {
          "data": {"name": "k4"},
          "mark": {"type": "text", "align": "left", "baseline": "middle", "fontSize": 19, "fontStyle": "italic"},
          "encoding": {
            "x": {"field": "x", "type": "quantitative", "title": "yₗ₊", "scale": {"domain": [-2.4, 2.4], "nice": false, "zero": false}},
            "y": {"field": "y", "type": "quantitative", "scale": {"domain": [-10, 2], "nice": false, "zero": false}, "axis": null},
            "text": {"field": "base"}
          }
        },
        {
          "data": {"name": "k4"},
          "mark": {"type": "text", "align": "left", "baseline": "middle", "fontSize": 12.5, "dx": 10, "dy": -8},
          "encoding": {
            "x": {"field": "x", "type": "quantitative", "title": "yₗ₊", "scale": {"domain": [-2.4, 2.4], "nice": false, "zero": false}},
            "y": {"field": "y", "type": "quantitative", "scale": {"domain": [-10, 2], "nice": false, "zero": false}, "axis": null},
            "text": {"field": "sup"}
          }
        },
        {
          "data": {"name": "k4"},
          "mark": {"type": "text", "align": "left", "baseline": "middle", "fontSize": 12.5, "dx": 10, "dy": 4},
          "encoding": {
            "x": {"field": "x", "type": "quantitative", "title": "yₗ₊", "scale": {"domain": [-2.4, 2.4], "nice": false, "zero": false}},
            "y": {"field": "y", "type": "quantitative", "scale": {"domain": [-10, 2], "nice": false, "zero": false}, "axis": null},
            "text": {"field": "sub"}
          }
        }
      ],
      "resolve": {"axis": {"y": "independent"}}
    },
    {
      "width": 353, "height": 267,
      "layer": [
        {
          "data": {"name": "p5"},
          "transform": [{"fold": ["r", "b", "g", "m"], "as": ["s", "v"]}],
          "mark": {"type": "line", "interpolate": "step-after", "strokeWidth": 1.2},
          "encoding": {
            "x": {"field": "x", "type": "quantitative", "title": "yₗ₊", "scale": {"domain": [-2.4, 2.4], "nice": false, "zero": false}, "axis": {"values": [-2, -1.5, -1, -0.5, 0, 0.5, 1, 1.5, 2], "format": "~g"}},
            "y": {"field": "v", "type": "quantitative", "title": "δ[%]", "scale": {"domain": [-40, 80], "nice": false, "zero": false}, "axis": {"orient": "left", "values": [-40, -20, 0, 20, 40, 60, 80], "titleX": -43, "titleY": -23}},
            "color": {"field": "s", "type": "nominal", "scale": {"domain": ["r", "b", "g", "m"], "range": ["#ff0000", "#0000ff", "#00ff00", "#ff00ff"]}, "legend": null},
            "strokeDash": {"field": "s", "type": "nominal", "scale": {"domain": ["r", "b", "g", "m"], "range": [[1, 0], [3.5, 3], [7, 4], [1.5, 2]]}, "legend": null}
          }
        },
        {
          "data": {"name": "k5"},
          "mark": {"type": "rule", "strokeWidth": 1.2},
          "encoding": {
            "x": {"field": "x1", "type": "quantitative", "title": "yₗ₊", "scale": {"domain": [-2.4, 2.4], "nice": false, "zero": false}},
            "x2": {"field": "x2"},
            "y": {"field": "y", "type": "quantitative", "scale": {"domain": [-40, 80], "nice": false, "zero": false}, "axis": {"orient": "right", "values": [-40, -20, 0, 20, 40, 60, 80], "labels": false, "title": null}},
            "color": {"field": "s", "type": "nominal", "scale": {"domain": ["r", "b", "g", "m"], "range": ["#ff0000", "#0000ff", "#00ff00", "#ff00ff"]}, "legend": null},
            "strokeDash": {"field": "s", "type": "nominal", "scale": {"domain": ["r", "b", "g", "m"], "range": [[1, 0], [3.5, 3], [7, 4], [1.5, 2]]}, "legend": null}
          }
        },
        {
          "data": {"name": "k5"},
          "mark": {"type": "text", "align": "left", "baseline": "middle", "fontSize": 19, "fontStyle": "italic"},
          "encoding": {
            "x": {"field": "x", "type": "quantitative", "title": "yₗ₊", "scale": {"domain": [-2.4, 2.4], "nice": false, "zero": false}},
            "y": {"field": "y", "type": "quantitative", "scale": {"domain": [-40, 80], "nice": false, "zero": false}, "axis": null},
            "text": {"field": "base"}
          }
        },
        {
          "data": {"name": "k5"},
          "mark": {"type": "text", "align": "left", "baseline": "middle", "fontSize": 12.5, "dx": 10, "dy": -8},
          "encoding": {
            "x": {"field": "x", "type": "quantitative", "title": "yₗ₊", "scale": {"domain": [-2.4, 2.4], "nice": false, "zero": false}},
            "y": {"field": "y", "type": "quantitative", "scale": {"domain": [-40, 80], "nice": false, "zero": false}, "axis": null},
            "text": {"field": "sup"}
          }
        },
        {
          "data": {"name": "k5"},
          "mark": {"type": "text", "align": "left", "baseline": "middle", "fontSize": 12.5, "dx": 10, "dy": 4},
          "encoding": {
            "x": {"field": "x", "type": "quantitative", "title": "yₗ₊", "scale": {"domain": [-2.4, 2.4], "nice": false, "zero": false}},
            "y": {"field": "y", "type": "quantitative", "scale": {"domain": [-40, 80], "nice": false, "zero": false}, "axis": null},
            "text": {"field": "sub"}
          }
        }
      ],
      "resolve": {"axis": {"y": "independent"}}
    },
    {
      "width": 353, "height": 267,
      "layer": [
        {
          "data": {"name": "p6"},
          "transform": [{"fold": ["r", "b", "g", "m"], "as": ["s", "v"]}],
          "mark": {"type": "line", "interpolate": "step-after", "strokeWidth": 1.2},
          "encoding": {
            "x": {"field": "x", "type": "quantitative", "title": "yₗ₊", "scale": {"domain": [-2.4, 2.4], "nice": false, "zero": false}, "axis": {"values": [-2, -1.5, -1, -0.5, 0, 0.5, 1, 1.5, 2], "format": "~g"}},
            "y": {"field": "v", "type": "quantitative", "title": "δ[%]", "scale": {"domain": [-40, 80], "nice": false, "zero": false}, "axis": {"orient": "left", "values": [-40, -20, 0, 20, 40, 60, 80], "titleX": -42, "titleY": -23}},
            "color": {"field": "s", "type": "nominal", "scale": {"domain": ["r", "b", "g", "m"], "range": ["#ff0000", "#0000ff", "#00ff00", "#ff00ff"]}, "legend": null},
            "strokeDash": {"field": "s", "type": "nominal", "scale": {"domain": ["r", "b", "g", "m"], "range": [[1, 0], [3.5, 3], [7, 4], [1.5, 2]]}, "legend": null}
          }
        },
        {
          "data": {"name": "k6"},
          "mark": {"type": "rule", "strokeWidth": 1.2},
          "encoding": {
            "x": {"field": "x1", "type": "quantitative", "title": "yₗ₊", "scale": {"domain": [-2.4, 2.4], "nice": false, "zero": false}},
            "x2": {"field": "x2"},
            "y": {"field": "y", "type": "quantitative", "scale": {"domain": [-40, 80], "nice": false, "zero": false}, "axis": {"orient": "right", "values": [-40, -20, 0, 20, 40, 60, 80], "labels": false, "title": null}},
            "color": {"field": "s", "type": "nominal", "scale": {"domain": ["r", "b", "g", "m"], "range": ["#ff0000", "#0000ff", "#00ff00", "#ff00ff"]}, "legend": null},
            "strokeDash": {"field": "s", "type": "nominal", "scale": {"domain": ["r", "b", "g", "m"], "range": [[1, 0], [3.5, 3], [7, 4], [1.5, 2]]}, "legend": null}
          }
        },
        {
          "data": {"name": "k6"},
          "mark": {"type": "text", "align": "left", "baseline": "middle", "fontSize": 19, "fontStyle": "italic"},
          "encoding": {
            "x": {"field": "x", "type": "quantitative", "title": "yₗ₊", "scale": {"domain": [-2.4, 2.4], "nice": false, "zero": false}},
            "y": {"field": "y", "type": "quantitative", "scale": {"domain": [-40, 80], "nice": false, "zero": false}, "axis": null},
            "text": {"field": "base"}
          }
        },
        {
          "data": {"name": "k6"},
          "mark": {"type": "text", "align": "left", "baseline": "middle", "fontSize": 12.5, "dx": 10, "dy": -8},
          "encoding": {
            "x": {"field": "x", "type": "quantitative", "title": "yₗ₊", "scale": {"domain": [-2.4, 2.4], "nice": false, "zero": false}},
            "y": {"field": "y", "type": "quantitative", "scale": {"domain": [-40, 80], "nice": false, "zero": false}, "axis": null},
            "text": {"field": "sup"}
          }
        },
        {
          "data": {"name": "k6"},
          "mark": {"type": "text", "align": "left", "baseline": "middle", "fontSize": 12.5, "dx": 10, "dy": 4},
          "encoding": {
            "x": {"field": "x", "type": "quantitative", "title": "yₗ₊", "scale": {"domain": [-2.4, 2.4], "nice": false, "zero": false}},
            "y": {"field": "y", "type": "quantitative", "scale": {"domain": [-40, 80], "nice": false, "zero": false}, "axis": null},
            "text": {"field": "sub"}
          }
        }
      ],
      "resolve": {"axis": {"y": "independent"}}
    }
  ]
}
